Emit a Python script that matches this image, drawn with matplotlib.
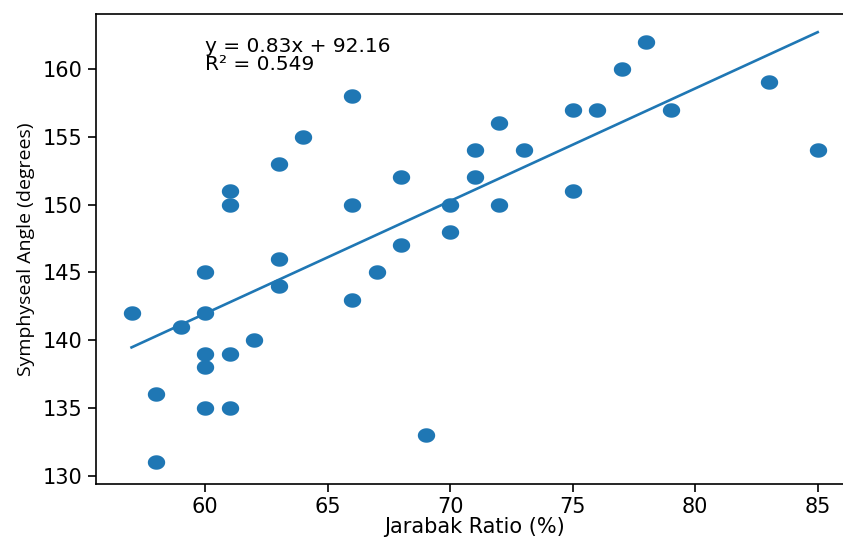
import numpy as np
import matplotlib
matplotlib.use("Agg")
import matplotlib.pyplot as plt
from matplotlib.path import Path

# Jarabak ratio (%) vs symphyseal angle (degrees)
jarabak = [57, 58, 58, 59, 60, 60, 60, 60, 60, 61, 61, 61, 61, 62, 63, 63, 63, 64,
           66, 66, 66, 67, 68, 68, 69, 70, 70, 71, 71, 72, 72, 73, 75, 75, 76, 77,
           78, 79, 83, 85]
angle = [142, 136, 131, 141, 145, 142, 139, 138, 135, 151, 150, 139, 135, 140, 153,
         146, 144, 155, 158, 150, 143, 145, 152, 147, 133, 150, 148, 154, 152, 156,
         150, 154, 157, 151, 157, 160, 162, 157, 159, 154]

slope = 0.83
intercept = 92.16
r_squared = 0.549

# squashed circle so the dots look like the (stretched) original
t = np.linspace(0, 2 * np.pi, 60)
ellipse = Path(np.column_stack([1.2 * np.cos(t), np.sin(t)]), closed=True)

fig = plt.figure(figsize=(8.43, 5.38), dpi=100)
ax = fig.add_axes([96 / 843, 1 - 484 / 538, 756 / 843, 470 / 538])

ax.scatter(jarabak, angle, s=12.5 ** 2, marker=ellipse, color='#1f77b4', linewidths=0)

fit_x = np.array([min(jarabak), max(jarabak)])
ax.plot(fit_x, slope * fit_x + intercept, color='#1f77b4', linewidth=1.9)

ax.text(60, 159.65, f'y = {slope}x + {intercept}\nR² = {r_squared}',
        fontsize=14.5, ha='left', va='bottom', linespacing=0.92)

ax.set_xlim(55.55, 86.4)
ax.set_ylim(129.4, 164.05)
ax.set_xticks([60, 65, 70, 75, 80, 85])
ax.set_yticks([130, 135, 140, 145, 150, 155, 160])
ax.tick_params(labelsize=15, length=6, width=1.2)
for side in ['left', 'bottom', 'top', 'right']:
    ax.spines[side].set_linewidth(1.2)

ax.set_xlabel('Jarabak Ratio (%)', fontsize=15, labelpad=0)
ax.set_ylabel('Symphyseal Angle (degrees)', fontsize=14, family='Open Sans', labelpad=6)

fig.savefig('out.png', dpi=100)
